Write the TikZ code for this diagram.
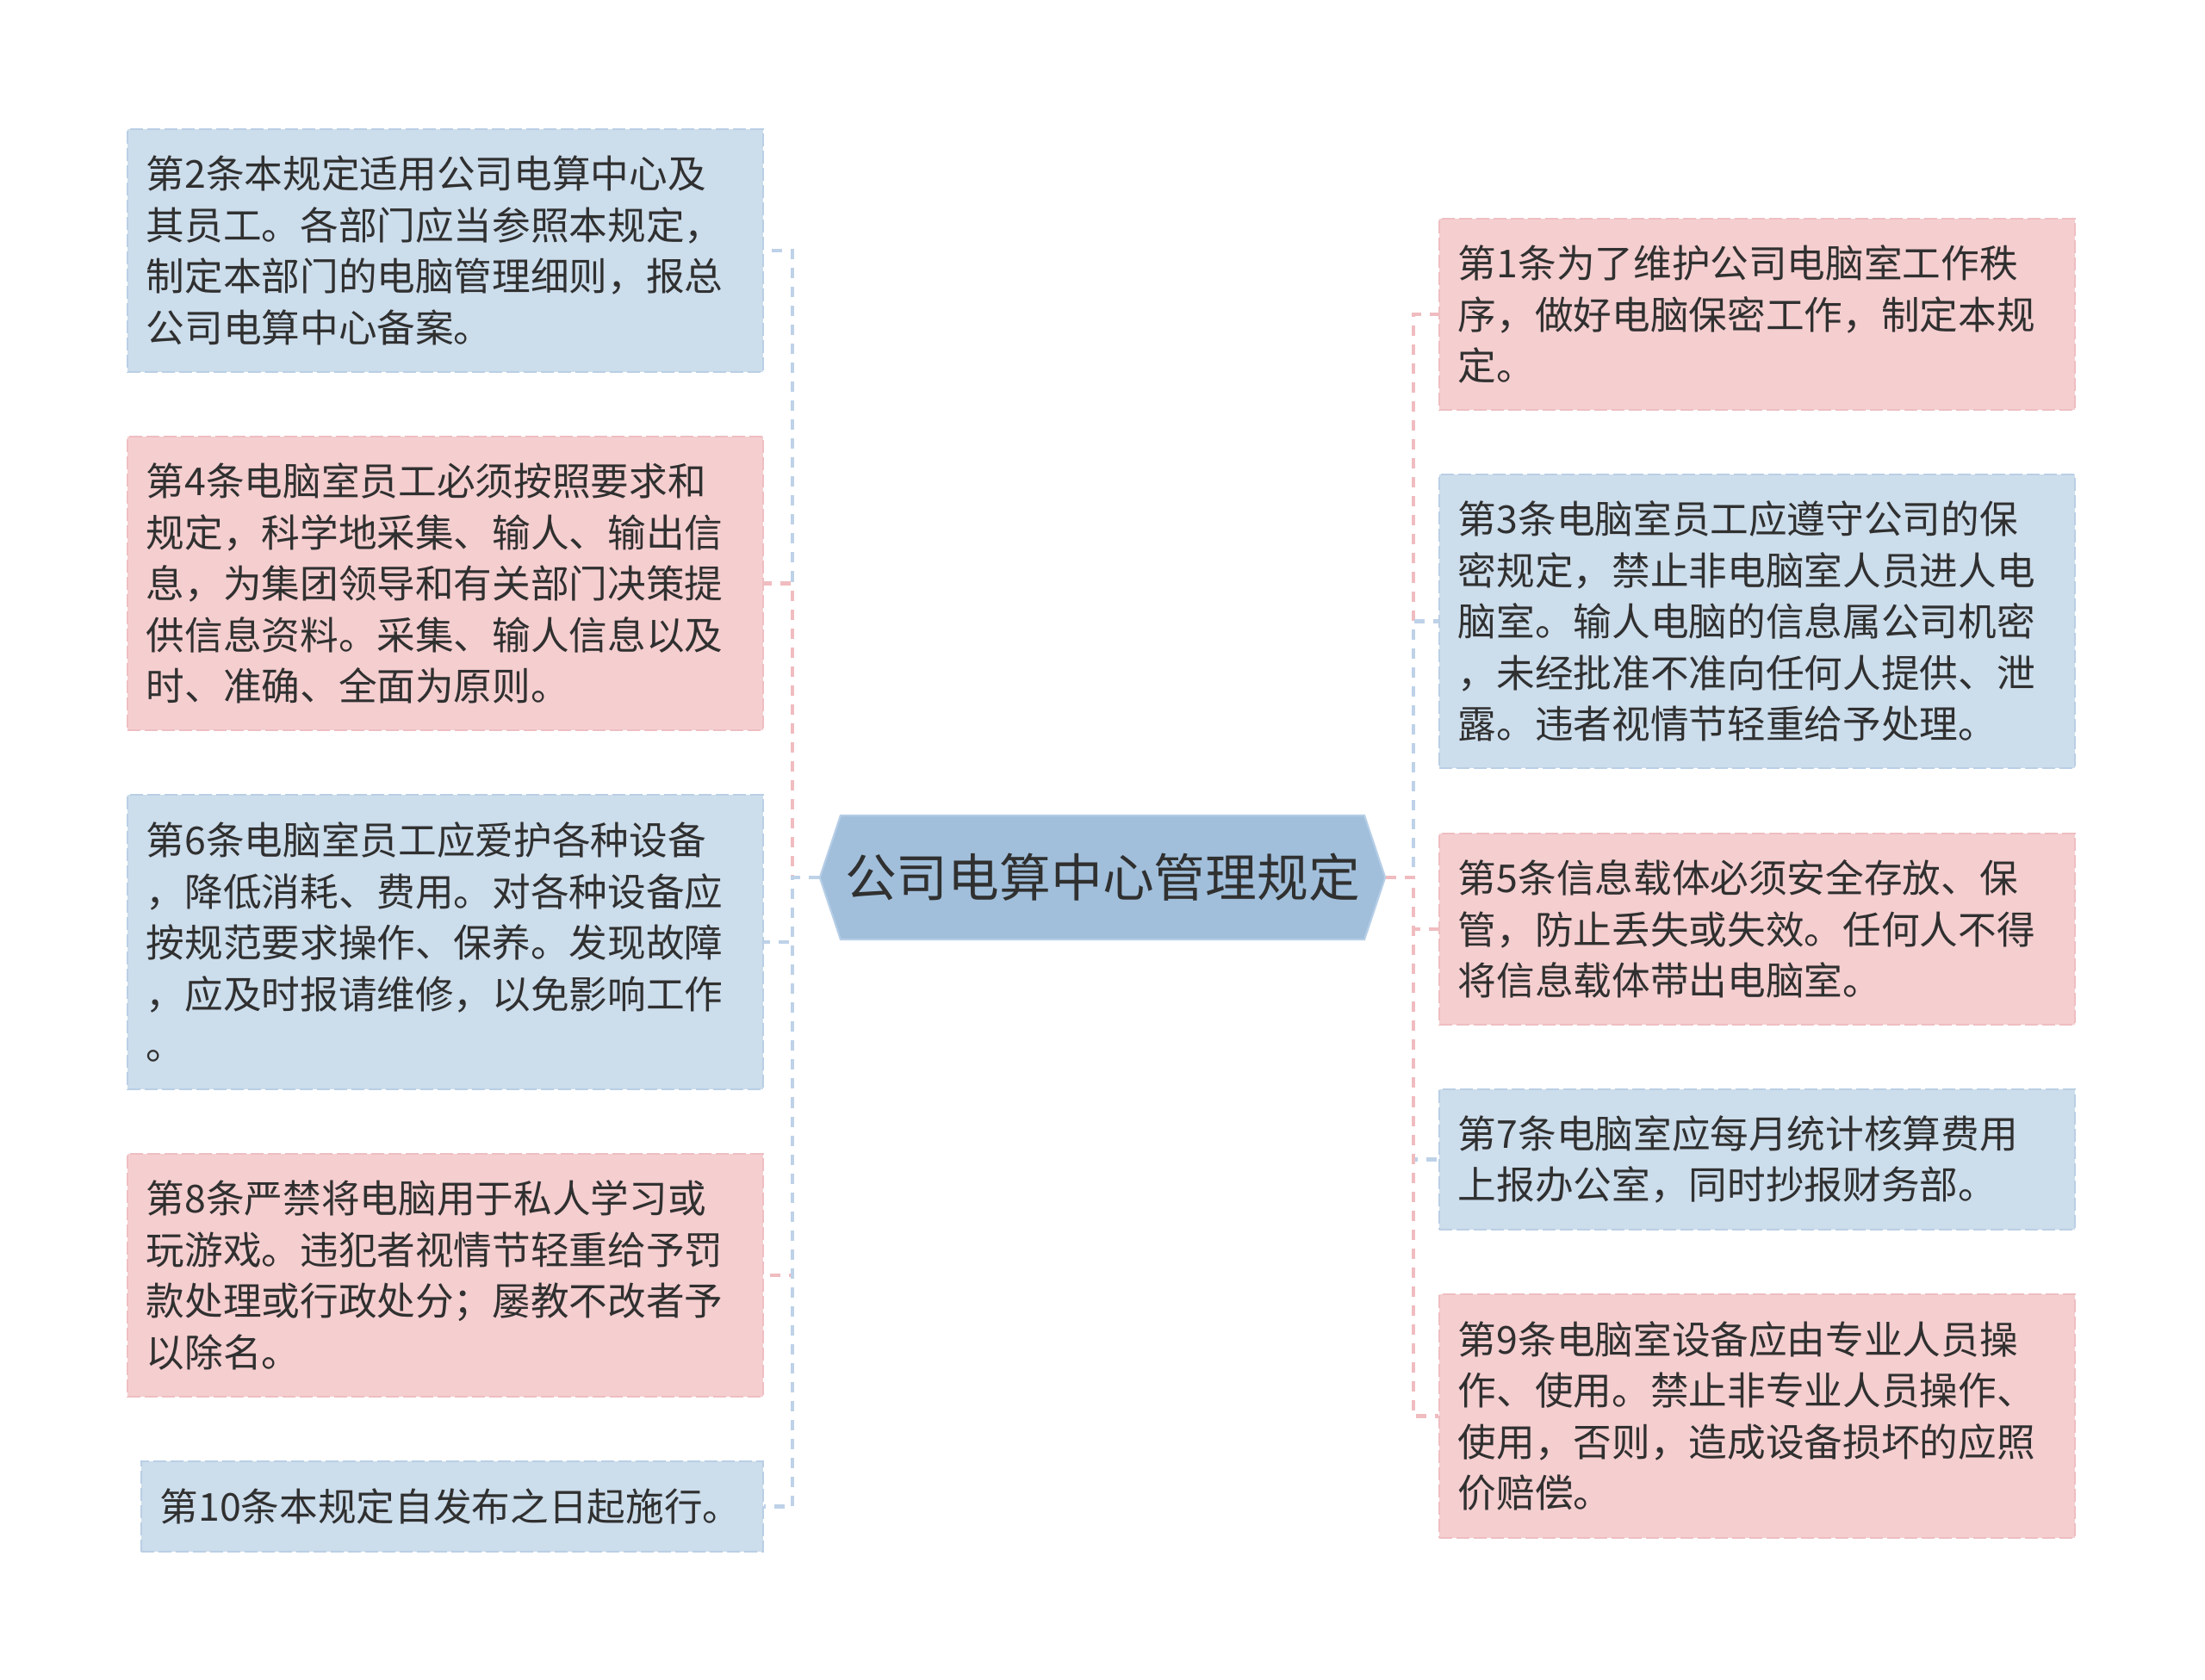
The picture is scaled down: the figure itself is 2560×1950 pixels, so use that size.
\documentclass[tikz,border=0pt]{standalone}
\usepackage{fontspec}
\newfontfamily\cjk{Noto Sans CJK SC}
\usetikzlibrary{shapes.symbols}
\definecolor{hubfill}{RGB}{161,191,219}
\definecolor{hubedge}{RGB}{182,206,230}
\definecolor{bluefill}{RGB}{204,221,236}
\definecolor{pinkfill}{RGB}{245,206,208}
\definecolor{blueedge}{RGB}{186,207,229}
\definecolor{pinkedge}{RGB}{238,190,194}
\definecolor{bluelink}{RGB}{190,210,232}
\definecolor{pinklink}{RGB}{240,188,192}
\definecolor{txt}{RGB}{48,48,48}
\tikzset{
  leaf/.style={rectangle, draw, line width=0.5pt, dash pattern=on 0.15cm off 0.05cm,
    text width=6.94cm, inner xsep=0.22cm, inner ysep=0pt, align=left, text=txt,
    font=\cjk\fontsize{12.7pt}{16.9pt}\selectfont},
  blueleaf/.style={leaf, fill=bluefill, draw=blueedge},
  pinkleaf/.style={leaf, fill=pinkfill, draw=pinkedge},
  link/.style={line width=1.3pt, dash pattern=on 0.12cm off 0.1cm}
}
\begin{document}
\begin{tikzpicture}[x=0.01cm,y=-0.01cm]
\useasboundingbox (0,0) rectangle (2560,1950);
\node[signal, signal to=west and east, signal pointer angle=143, fill=hubfill, draw=hubedge,
  line width=0.6pt, minimum width=6.56cm, minimum height=1.44cm, inner sep=0pt, text=txt,
  font=\cjk\fontsize{17pt}{20pt}\selectfont] (hub) at (1280,1019) {公司电算中心管理规定};
\coordinate (ltrunk) at (920,1019);
\coordinate (rtrunk) at (1641,1019);

\node[blueleaf, anchor=north east, minimum height=2.82cm] (n2) at (887,149)
  {第2条本规定适用公司电算中心及\\其员工。各部门应当参照本规定，\\制定本部门的电脑管理细则，报总\\公司电算中心备案。};
\node[pinkleaf, anchor=north east, minimum height=3.41cm] (n4) at (887,506)
  {第4条电脑室员工必须按照要求和\\规定，科学地采集、输人、输出信\\息，为集团领导和有关部门决策提\\供信息资料。采集、输人信息以及\\时、准确、全面为原则。};
\node[blueleaf, anchor=north east, minimum height=3.42cm] (n6) at (887,922)
  {第6条电脑室员工应爱护各种设备\\，降低消耗、费用。对各种设备应\\按规范要求操作、保养。发现故障\\，应及时报请维修，以免影响工作\\。};
\node[pinkleaf, anchor=north east, minimum height=2.82cm] (n8) at (887,1339)
  {第8条严禁将电脑用于私人学习或\\玩游戏。违犯者视情节轻重给予罚\\款处理或行政处分；屡教不改者予\\以除名。};
\node[blueleaf, anchor=north east, minimum height=1.05cm, text width=6.78cm] (n10) at (887,1696)
  {第10条本规定自发布之日起施行。};

\node[pinkleaf, anchor=north west, minimum height=2.22cm] (n1) at (1670,253)
  {第1条为了维护公司电脑室工作秩\\序，做好电脑保密工作，制定本规\\定。};
\node[blueleaf, anchor=north west, minimum height=3.41cm] (n3) at (1670,550)
  {第3条电脑室员工应遵守公司的保\\密规定，禁止非电脑室人员进人电\\脑室。输人电脑的信息属公司机密\\，未经批准不准向任何人提供、泄\\露。违者视情节轻重给予处理。};
\node[pinkleaf, anchor=north west, minimum height=2.22cm] (n5) at (1670,967)
  {第5条信息载体必须安全存放、保\\管，防止丢失或失效。任何人不得\\将信息载体带出电脑室。};
\node[blueleaf, anchor=north west, minimum height=1.63cm] (n7) at (1670,1264)
  {第7条电脑室应每月统计核算费用\\上报办公室，同时抄报财务部。};
\node[pinkleaf, anchor=north west, minimum height=2.83cm] (n9) at (1670,1502)
  {第9条电脑室设备应由专业人员操\\作、使用。禁止非专业人员操作、\\使用，否则，造成设备损坏的应照\\价赔偿。};

\foreach \n/\c in {n2/bluelink,n4/pinklink,n6/bluelink,n8/pinklink,n10/bluelink}
  \draw[link, draw=\c] (hub.west) -- (ltrunk) |- (\n.east);
\foreach \n/\c in {n1/pinklink,n3/bluelink,n5/pinklink,n7/bluelink,n9/pinklink}
  \draw[link, draw=\c] (hub.east) -- (rtrunk) |- (\n.west);
\end{tikzpicture}
\end{document}
